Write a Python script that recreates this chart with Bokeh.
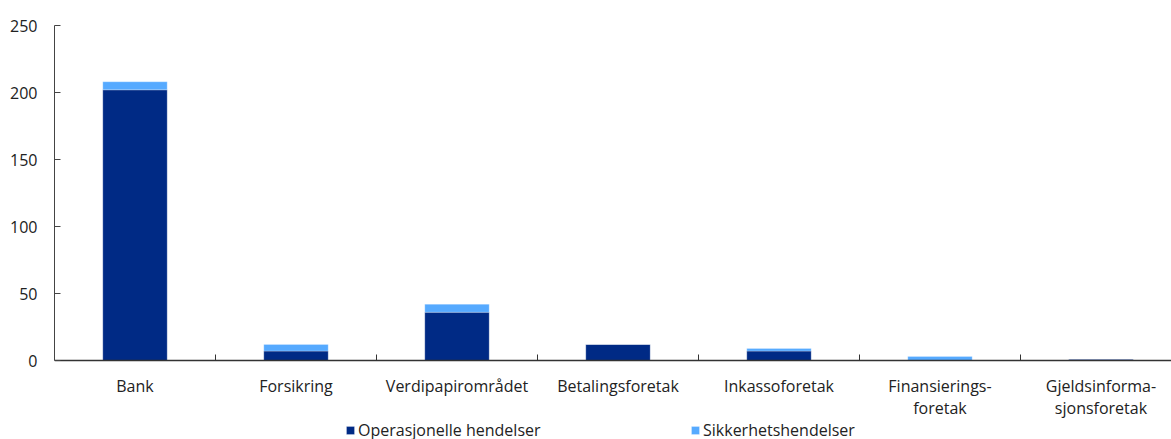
from bokeh.plotting import figure
from bokeh.models import ColumnDataSource, Range1d, FixedTicker, Legend
from bokeh.embed import file_html
from bokeh.resources import INLINE

categories = ["Bank", "Forsikring", "Verdipapirområdet", "Betalingsforetak",
              "Inkassoforetak", "Finansierings-\nforetak", "Gjeldsinforma-\nsjonsforetak"]
operasjonelle = [202, 7, 36, 12, 7, 0, 1]
sikkerhet = [6, 5, 6, 0, 2, 3, 0]
series_names = ["Operasjonelle hendelser", "Sikkerhetshendelser"]
colors = ["#002A85", "#56AAFF"]
y_ticks = [0, 50, 100, 150, 200, 250]

xs = list(range(len(categories)))
source = ColumnDataSource(dict(x=xs, op=operasjonelle, sec=sikkerhet))

FONT = "Open Sans"
# frame extends below the zero line so the legend can sit inside it
PLOT_H = 335          # pixels from 0 to 250
EXTRA = 79            # pixels below zero line kept for labels and legend
y_lo = -250 * EXTRA / PLOT_H

p = figure(frame_width=1117, frame_height=PLOT_H + EXTRA, output_backend="svg",
           toolbar_location=None,
           x_range=Range1d(-0.5, 6.438), y_range=Range1d(y_lo, 250),
           min_border_left=54, min_border_right=0, min_border_top=25, min_border_bottom=0)
p.outline_line_color = None
p.grid.visible = False
p.background_fill_color = "white"
p.border_fill_color = "white"

r = p.vbar_stack(["op", "sec"], x="x", width=0.4, source=source, color=colors,
                 line_color="white", line_alpha=0.25, line_width=1)

# x axis (drawn at y = 0)
p.xaxis.fixed_location = 0
p.xaxis.ticker = FixedTicker(ticks=xs, minor_ticks=[i + 0.5 for i in xs[:-1]])
p.xaxis.major_label_overrides = {i: c for i, c in enumerate(categories)}
p.xaxis.major_tick_in = 0
p.xaxis.major_tick_out = 0
p.xaxis.minor_tick_in = 6
p.xaxis.minor_tick_out = 0
p.xaxis.minor_tick_line_color = "#333333"
p.xaxis.axis_line_color = "#333333"
p.xaxis.axis_line_width = 1.5
p.xaxis.major_label_standoff = 14
p.xaxis.major_label_text_font = FONT
p.xaxis.major_label_text_font_size = "16px"
p.xaxis.major_label_text_color = "#222222"
p.xaxis.major_label_text_line_height = 1.0

# y axis
p.yaxis.bounds = (0, 250)
p.yaxis.ticker = FixedTicker(ticks=y_ticks)
p.yaxis.minor_tick_line_color = None
p.yaxis.major_tick_in = 6
p.yaxis.major_tick_out = 0
p.yaxis.major_tick_line_color = "#444444"
p.yaxis.axis_line_color = "#444444"
p.yaxis.major_label_standoff = 17
p.yaxis.major_label_text_font = FONT
p.yaxis.major_label_text_font_size = "16px"
p.yaxis.major_label_text_color = "#222222"

legend = Legend(items=[(series_names[0], [r[0]]), (series_names[1], [r[1]])],
                orientation="horizontal", location=(291, -2),
                glyph_width=10, glyph_height=10, label_height=14, label_standoff=3,
                label_width=185, spacing=147, padding=0, margin=0,
                border_line_color=None, background_fill_alpha=0,
                label_text_font=FONT, label_text_font_size="16px",
                label_text_color="#222222")
p.add_layout(legend, "center")

open("out.html", "w").write(file_html(p, INLINE))
